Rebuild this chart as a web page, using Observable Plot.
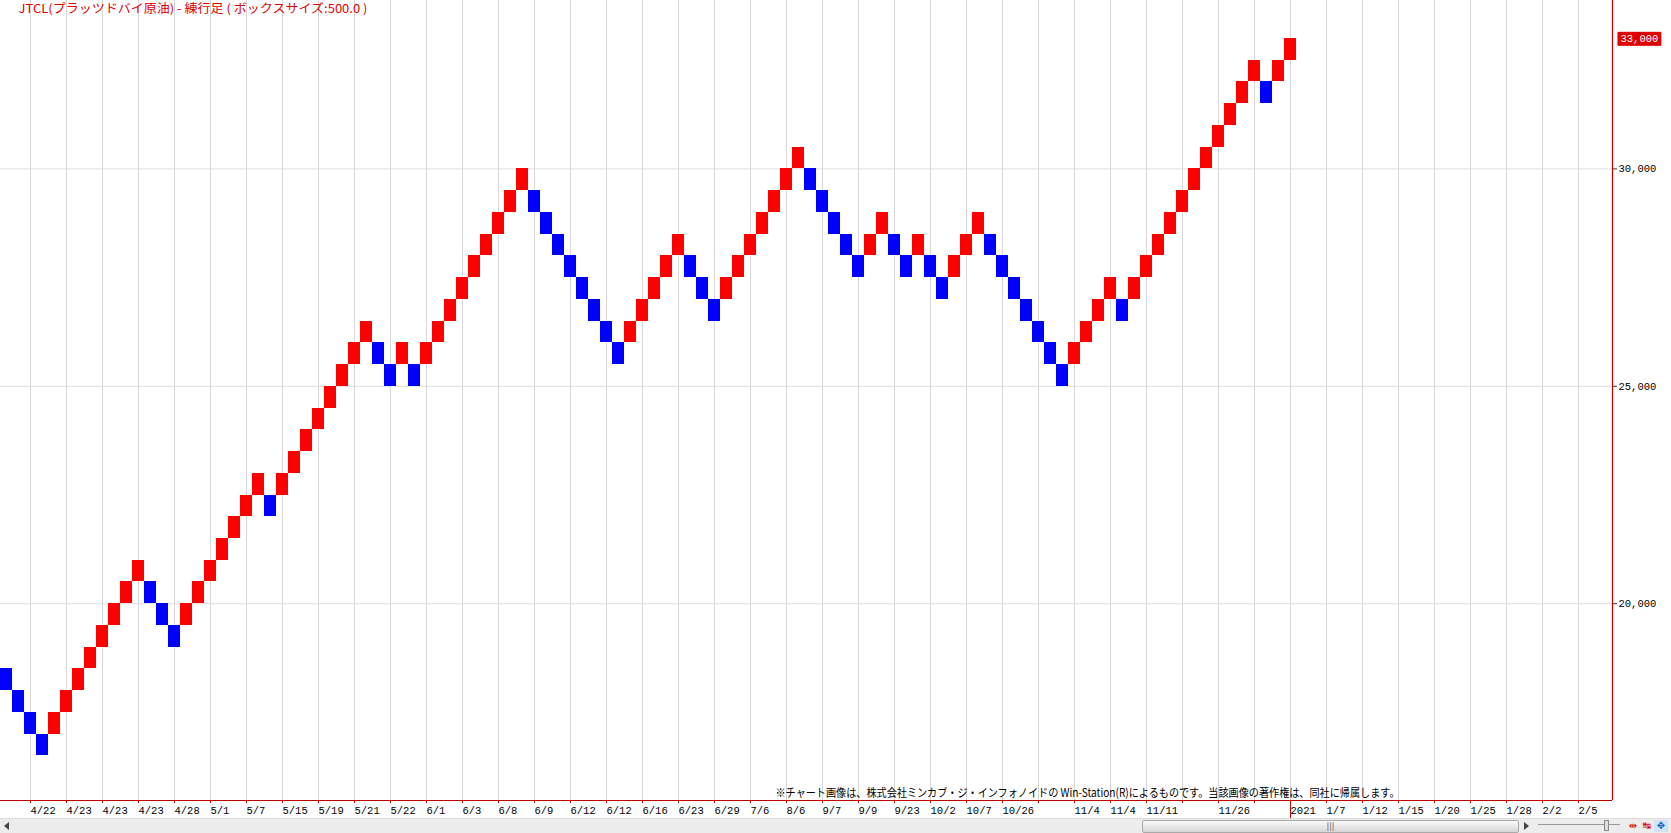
<!DOCTYPE html>
<html><head><meta charset="utf-8">
<script src="https://cdn.jsdelivr.net/npm/d3@7"></script>
<script src="https://cdn.jsdelivr.net/npm/@observablehq/plot@0.6"></script>
<style>
body{margin:0;background:#fff;overflow:hidden}
#wrap{position:relative;width:1671px;height:833px;overflow:hidden}
#chart{position:absolute;left:0;top:0}
#bar{position:absolute;left:0;top:818px;width:1671px;height:15px;background:#ececec;border-top:1px solid #dcdcdc;box-sizing:border-box}
#larr{position:absolute;left:4px;top:3px;width:0;height:0;border-top:4px solid transparent;border-bottom:4px solid transparent;border-right:5px solid #444}
#thumb{position:absolute;left:1142px;top:1px;width:375px;height:11px;background:linear-gradient(#fafafa,#d6d6d6);border:1px solid #a9a9a9;border-radius:2px;font:8px 'DejaVu Sans',sans-serif;color:#666;text-align:center;line-height:11px}
#rarr{position:absolute;left:1524px;top:3px;width:0;height:0;border-top:4px solid transparent;border-bottom:4px solid transparent;border-left:5px solid #444}
#track{position:absolute;left:1538px;top:5px;width:82px;height:1px;background:#999}
#knob{position:absolute;left:1604px;top:1px;width:3px;height:9px;background:#ddd;border:1px solid #888}
#icons{position:absolute;left:1626px;top:1px;font:10px 'DejaVu Sans',sans-serif;color:#c00;white-space:nowrap}
#icons span{display:inline-block;width:14px;height:12px;text-align:center;line-height:12px}
</style></head><body>
<div id="wrap"><div id="chart"></div>
<div id="bar"><div id="larr"></div><div id="thumb">|||</div><div id="rarr"></div><div id="track"></div><div id="knob"></div>
<div id="icons"><span>⇹</span><span>↹</span><span style="background:#cfe3f5;color:#06c">✥</span></div></div>
</div>
<script>
// ---- data ----
const titleText = "JTCL(プラッツドバイ原油) - 練行足 ( ボックスサイズ:500.0 )";
const noteText = "※チャート画像は、株式会社ミンカブ・ジ・インフォノイドの Win-Station(R)によるものです。当該画像の著作権は、同社に帰属します。";
const boxSize = 500;
const brickBottoms = [
  18000,17500,17000,16500,17000,17500,18000,18500,19000,19500,
  20000,20500,20000,19500,19000,19500,20000,20500,21000,21500,
  22000,22500,22000,22500,23000,23500,24000,24500,25000,25500,
  26000,25500,25000,25500,25000,25500,26000,26500,27000,27500,
  28000,28500,29000,29500,29000,28500,28000,27500,27000,26500,
  26000,25500,26000,26500,27000,27500,28000,27500,27000,26500,
  27000,27500,28000,28500,29000,29500,30000,29500,29000,28500,
  28000,27500,28000,28500,28000,27500,28000,27500,27000,27500,
  28000,28500,28000,27500,27000,26500,26000,25500,25000,25500,
  26000,26500,27000,26500,27000,27500,28000,28500,29000,29500,
  30000,30500,31000,31500,32000,31500,32000,32500
];
const brickDirs = (
  "DDDD"+"UUUUUUUU"+"DDD"+"UUUUUUU"+"D"+"UUUUUUUU"+"DD"+"U"+"D"+"UUUUUUUUU"+
  "DDDDDDDD"+"UUUUU"+"DDD"+"UUUUUUU"+"DDDDD"+"UU"+"DD"+"U"+"DD"+"UUU"+
  "DDDDDDD"+"UUUU"+"D"+"UUUUUUUUUUU"+"D"+"UU"
).split("");
const tickLabels = ["4/22","4/23","4/23","4/23","4/28","5/1","5/7","5/15","5/19","5/21",
  "5/22","6/1","6/3","6/8","6/9","6/12","6/12","6/16","6/23","6/29",
  "7/6","8/6","9/7","9/9","9/23","10/2","10/7","10/26","","11/4",
  "11/4","11/11","","11/26","","2021","1/7","1/12","1/15","1/20",
  "1/25","1/28","2/2","2/5"];
const yearLabel = "2021";
const priceTicks = [20000, 25000, 30000];
const lastPrice = 33000;

// ---- derived ----
const bricks = brickBottoms.map((b, i) => ({col: i, low: b, high: b + boxSize, dir: brickDirs[i]}));
const tickPos = tickLabels.map((_, k) => 2.5 + 3 * k);
const labelByPos = new Map(tickPos.map((p, k) => [p, tickLabels[k]]));
const yearPos = tickPos[tickLabels.indexOf(yearLabel)];
const xDomain = [0, 134.33];
const yDomain = [15474, 33873];
const axisRed = "#c00000";

const chart = Plot.plot({
  width: 1671, height: 818,
  marginLeft: 0, marginRight: 59, marginTop: 0, marginBottom: 18,
  x: {type: "linear", domain: xDomain, axis: null, label: null},
  y: {domain: yDomain, axis: null, label: null},
  color: {domain: ["U", "D"], range: ["#ff0000", "#0000ff"]},
  style: {fontFamily: "'Liberation Mono','Noto Sans CJK JP',monospace", fontSize: "10.5px", background: "transparent", overflow: "visible"},
  marks: [
    Plot.gridX(tickPos, {stroke: "#d6d6d6", strokeOpacity: 1}),
    Plot.gridY(priceTicks, {stroke: "#dedede", strokeOpacity: 1}),
    Plot.rect(bricks, {x1: "col", x2: d => d.col + 1, y1: "low", y2: "high", fill: "dir", shapeRendering: "crispEdges"}),
    Plot.ruleX([xDomain[1]], {stroke: axisRed, strokeWidth: 1.2}),
    Plot.ruleY([yDomain[0]], {stroke: axisRed, strokeWidth: 1.2}),
    Plot.axisX(tickPos, {anchor: "bottom", label: null, tickSize: 3, tickPadding: 3, stroke: axisRed, fill: "#000", textAnchor: "start", tickFormat: d => labelByPos.get(d)}),
    Plot.axisX([yearPos], {anchor: "bottom", label: null, tickSize: 18, stroke: axisRed, tickFormat: () => ""}),
    Plot.axisY(priceTicks, {anchor: "right", label: null, tickSize: 4, tickPadding: 2, stroke: "#333", fill: "#000", tickFormat: d3.format(",")}),
    Plot.axisY([lastPrice], {anchor: "right", label: null, tickSize: 0, tickPadding: 8, fill: "#fff", tickFormat: d3.format(",")}),
    Plot.text([titleText], {frameAnchor: "top-left", dx: 18, dy: 4, lineAnchor: "top", textAnchor: "start", fill: "#e00000", fontSize: 12, fontFamily: "'Noto Sans CJK JP',sans-serif"}),
    Plot.text([noteText], {frameAnchor: "bottom-right", dx: -213, dy: -4, lineAnchor: "bottom", textAnchor: "end", fill: "#000", fontSize: 11.5, fontFamily: "'Noto Sans CJK JP',sans-serif"})
  ]
});
document.getElementById("chart").appendChild(chart);

// post-process: fit text widths, add price highlight box
const svg = d3.select(chart);
svg.selectAll("text").each(function() {
  const t = this.textContent;
  if (t === titleText) { this.setAttribute("textLength", 349); this.setAttribute("lengthAdjust", "spacingAndGlyphs"); }
  if (t === noteText) { this.setAttribute("textLength", 624); this.setAttribute("lengthAdjust", "spacingAndGlyphs"); }
});
svg.selectAll("text").each(function() {
  if (this.textContent === d3.format(",")(lastPrice)) {
    const bb = this.getBBox();
    const ctm = this.getAttribute("transform");
    const r = document.createElementNS("http://www.w3.org/2000/svg", "rect");
    r.setAttribute("x", bb.x - 3); r.setAttribute("y", bb.y - 1);
    r.setAttribute("width", bb.width + 6); r.setAttribute("height", bb.height + 2);
    r.setAttribute("fill", "#e00000");
    if (ctm) r.setAttribute("transform", ctm);
    this.parentNode.insertBefore(r, this);
  }
});
</script></body></html>
